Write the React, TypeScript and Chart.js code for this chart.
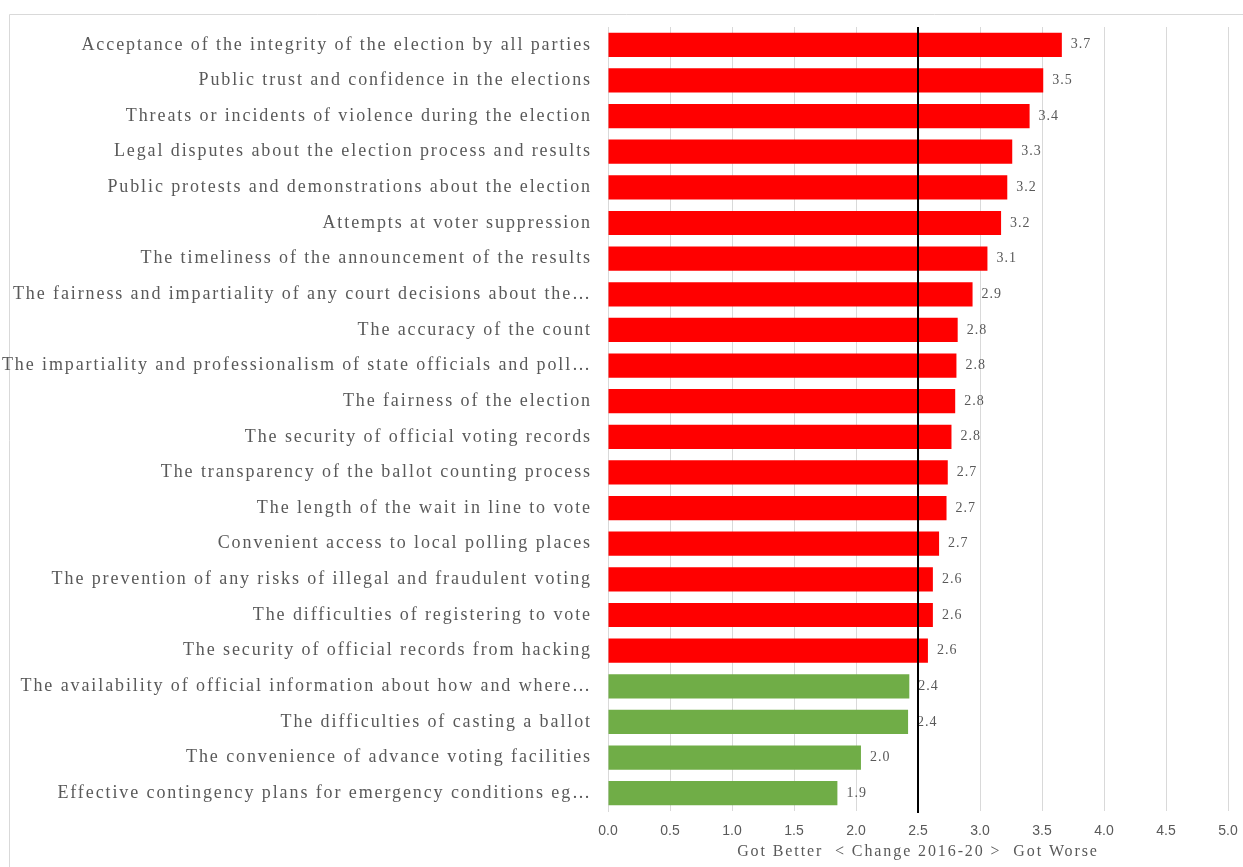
import React, { useEffect, useRef } from "react";
import { Chart, registerables } from "chart.js";

Chart.register(...registerables);

const categories: string[] = [
  "Acceptance of the integrity of the election by all parties",
  "Public trust and confidence in the elections",
  "Threats or incidents of violence during the election",
  "Legal disputes about the election process and results",
  "Public protests and demonstrations about the election",
  "Attempts at voter suppression",
  "The timeliness of the announcement of the results",
  "The fairness and impartiality of any court decisions about the…",
  "The accuracy of the count",
  "The impartiality and professionalism of state officials and poll…",
  "The fairness of the election",
  "The security of official voting records",
  "The transparency of the ballot counting process",
  "The length of the wait in line to vote",
  "Convenient access to local polling places",
  "The prevention of any risks of illegal and fraudulent voting",
  "The difficulties of registering to vote",
  "The security of official records from hacking",
  "The availability of official information about how and where…",
  "The difficulties of casting a ballot",
  "The convenience of advance voting facilities",
  "Effective contingency plans for emergency conditions eg…",
];

const values: number[] = [
  3.66, 3.51, 3.4, 3.26, 3.22, 3.17, 3.06, 2.94, 2.82, 2.81, 2.8, 2.77, 2.74,
  2.73, 2.67, 2.62, 2.62, 2.58, 2.43, 2.42, 2.04, 1.85,
];

const xTicks: number[] = [0, 0.5, 1, 1.5, 2, 2.5, 3, 3.5, 4, 4.5, 5];
const midpoint = 2.5;
const axisTitle = "Got Better  < Change 2016-20 >  Got Worse";

const RED = "#ff0000";
const GREEN = "#70ad47";
const GRAY_TEXT = "#595959";
const SERIF = "'Liberation Serif', 'DejaVu Serif', serif";
const SANS = "'Liberation Sans', 'Open Sans', sans-serif";

export default function App() {
  const ref = useRef<HTMLCanvasElement | null>(null);

  useEffect(() => {
    if (!ref.current) return;

    const framePlugin = {
      id: "frame",
      beforeDraw(chart: any) {
        const ctx = chart.ctx;
        ctx.save();
        ctx.strokeStyle = "#d9d9d9";
        ctx.lineWidth = 1;
        ctx.beginPath();
        ctx.moveTo(9.5, chart.height);
        ctx.lineTo(9.5, 14.5);
        ctx.lineTo(chart.width, 14.5);
        ctx.stroke();
        ctx.restore();
        // serif text (category labels, axis title) is widely spaced
        ctx.letterSpacing = "1.9px";
      },
      afterDraw(chart: any) {
        chart.ctx.letterSpacing = "0px";
      },
    };

    const overlayPlugin = {
      id: "overlay",
      afterDatasetsDraw(chart: any) {
        const ctx = chart.ctx;
        const xs = chart.scales.x;
        const area = chart.chartArea;
        const meta = chart.getDatasetMeta(0);
        ctx.save();
        ctx.letterSpacing = "1px";
        ctx.font = `14px ${SERIF}`;
        ctx.fillStyle = GRAY_TEXT;
        ctx.textAlign = "left";
        ctx.textBaseline = "middle";
        meta.data.forEach((bar: any, i: number) => {
          ctx.fillText(values[i].toFixed(1), bar.x + 9, bar.y);
        });
        const x = Math.round(xs.getPixelForValue(midpoint));
        ctx.strokeStyle = "#000000";
        ctx.lineWidth = 2;
        ctx.beginPath();
        ctx.moveTo(x, area.top);
        ctx.lineTo(x, area.bottom + 2);
        ctx.stroke();
        ctx.restore();
        // x tick labels (drawn after this) use normal spacing
        ctx.letterSpacing = "0px";
      },
    };

    const chart = new Chart(ref.current, {
      type: "bar",
      data: {
        labels: categories,
        datasets: [
          {
            data: values,
            backgroundColor: values.map((v) => (v >= midpoint ? RED : GREEN)),
            borderWidth: 0,
            barPercentage: 0.68,
            categoryPercentage: 1,
          },
        ],
      },
      options: {
        indexAxis: "y",
        responsive: false,
        animation: false,
        layout: { padding: { left: 0, right: 15, top: 27, bottom: 0 } },
        plugins: {
          legend: { display: false },
          tooltip: { enabled: false },
        },
        scales: {
          x: {
            min: 0,
            max: 5,
            afterFit(scale: any) {
              scale.height = 56;
              scale.paddingLeft = 0;
              scale.paddingRight = 0;
            },
            afterBuildTicks(scale: any) {
              scale.ticks = xTicks.map((v) => ({ value: v }));
            },
            ticks: {
              z: 1,
              padding: 12,
              color: GRAY_TEXT,
              font: { family: SANS, size: 14 },
              callback: (v: any) => Number(v).toFixed(1),
            },
            grid: { color: "#d9d9d9", lineWidth: 1, drawTicks: false },
            border: { display: false },
            title: {
              display: true,
              text: axisTitle,
              color: GRAY_TEXT,
              font: { family: SERIF, size: 16 },
              padding: { top: 0, bottom: 6 },
            },
          },
          y: {
            afterFit(scale: any) {
              scale.width = 608;
            },
            ticks: {
              padding: 16,
              color: GRAY_TEXT,
              font: { family: SERIF, size: 18 },
              autoSkip: false,
            },
            grid: { display: false, drawTicks: false },
            border: { display: true, color: "#d9d9d9", width: 1 },
          },
        },
      },
      plugins: [framePlugin, overlayPlugin],
    });

    return () => chart.destroy();
  }, []);

  return (
    <div style={{ position: "absolute", left: 0, top: 0, width: 1243, height: 867, background: "#fff" }}>
      <canvas ref={ref} width={1243} height={867} style={{ display: "block" }} />
    </div>
  );
}
